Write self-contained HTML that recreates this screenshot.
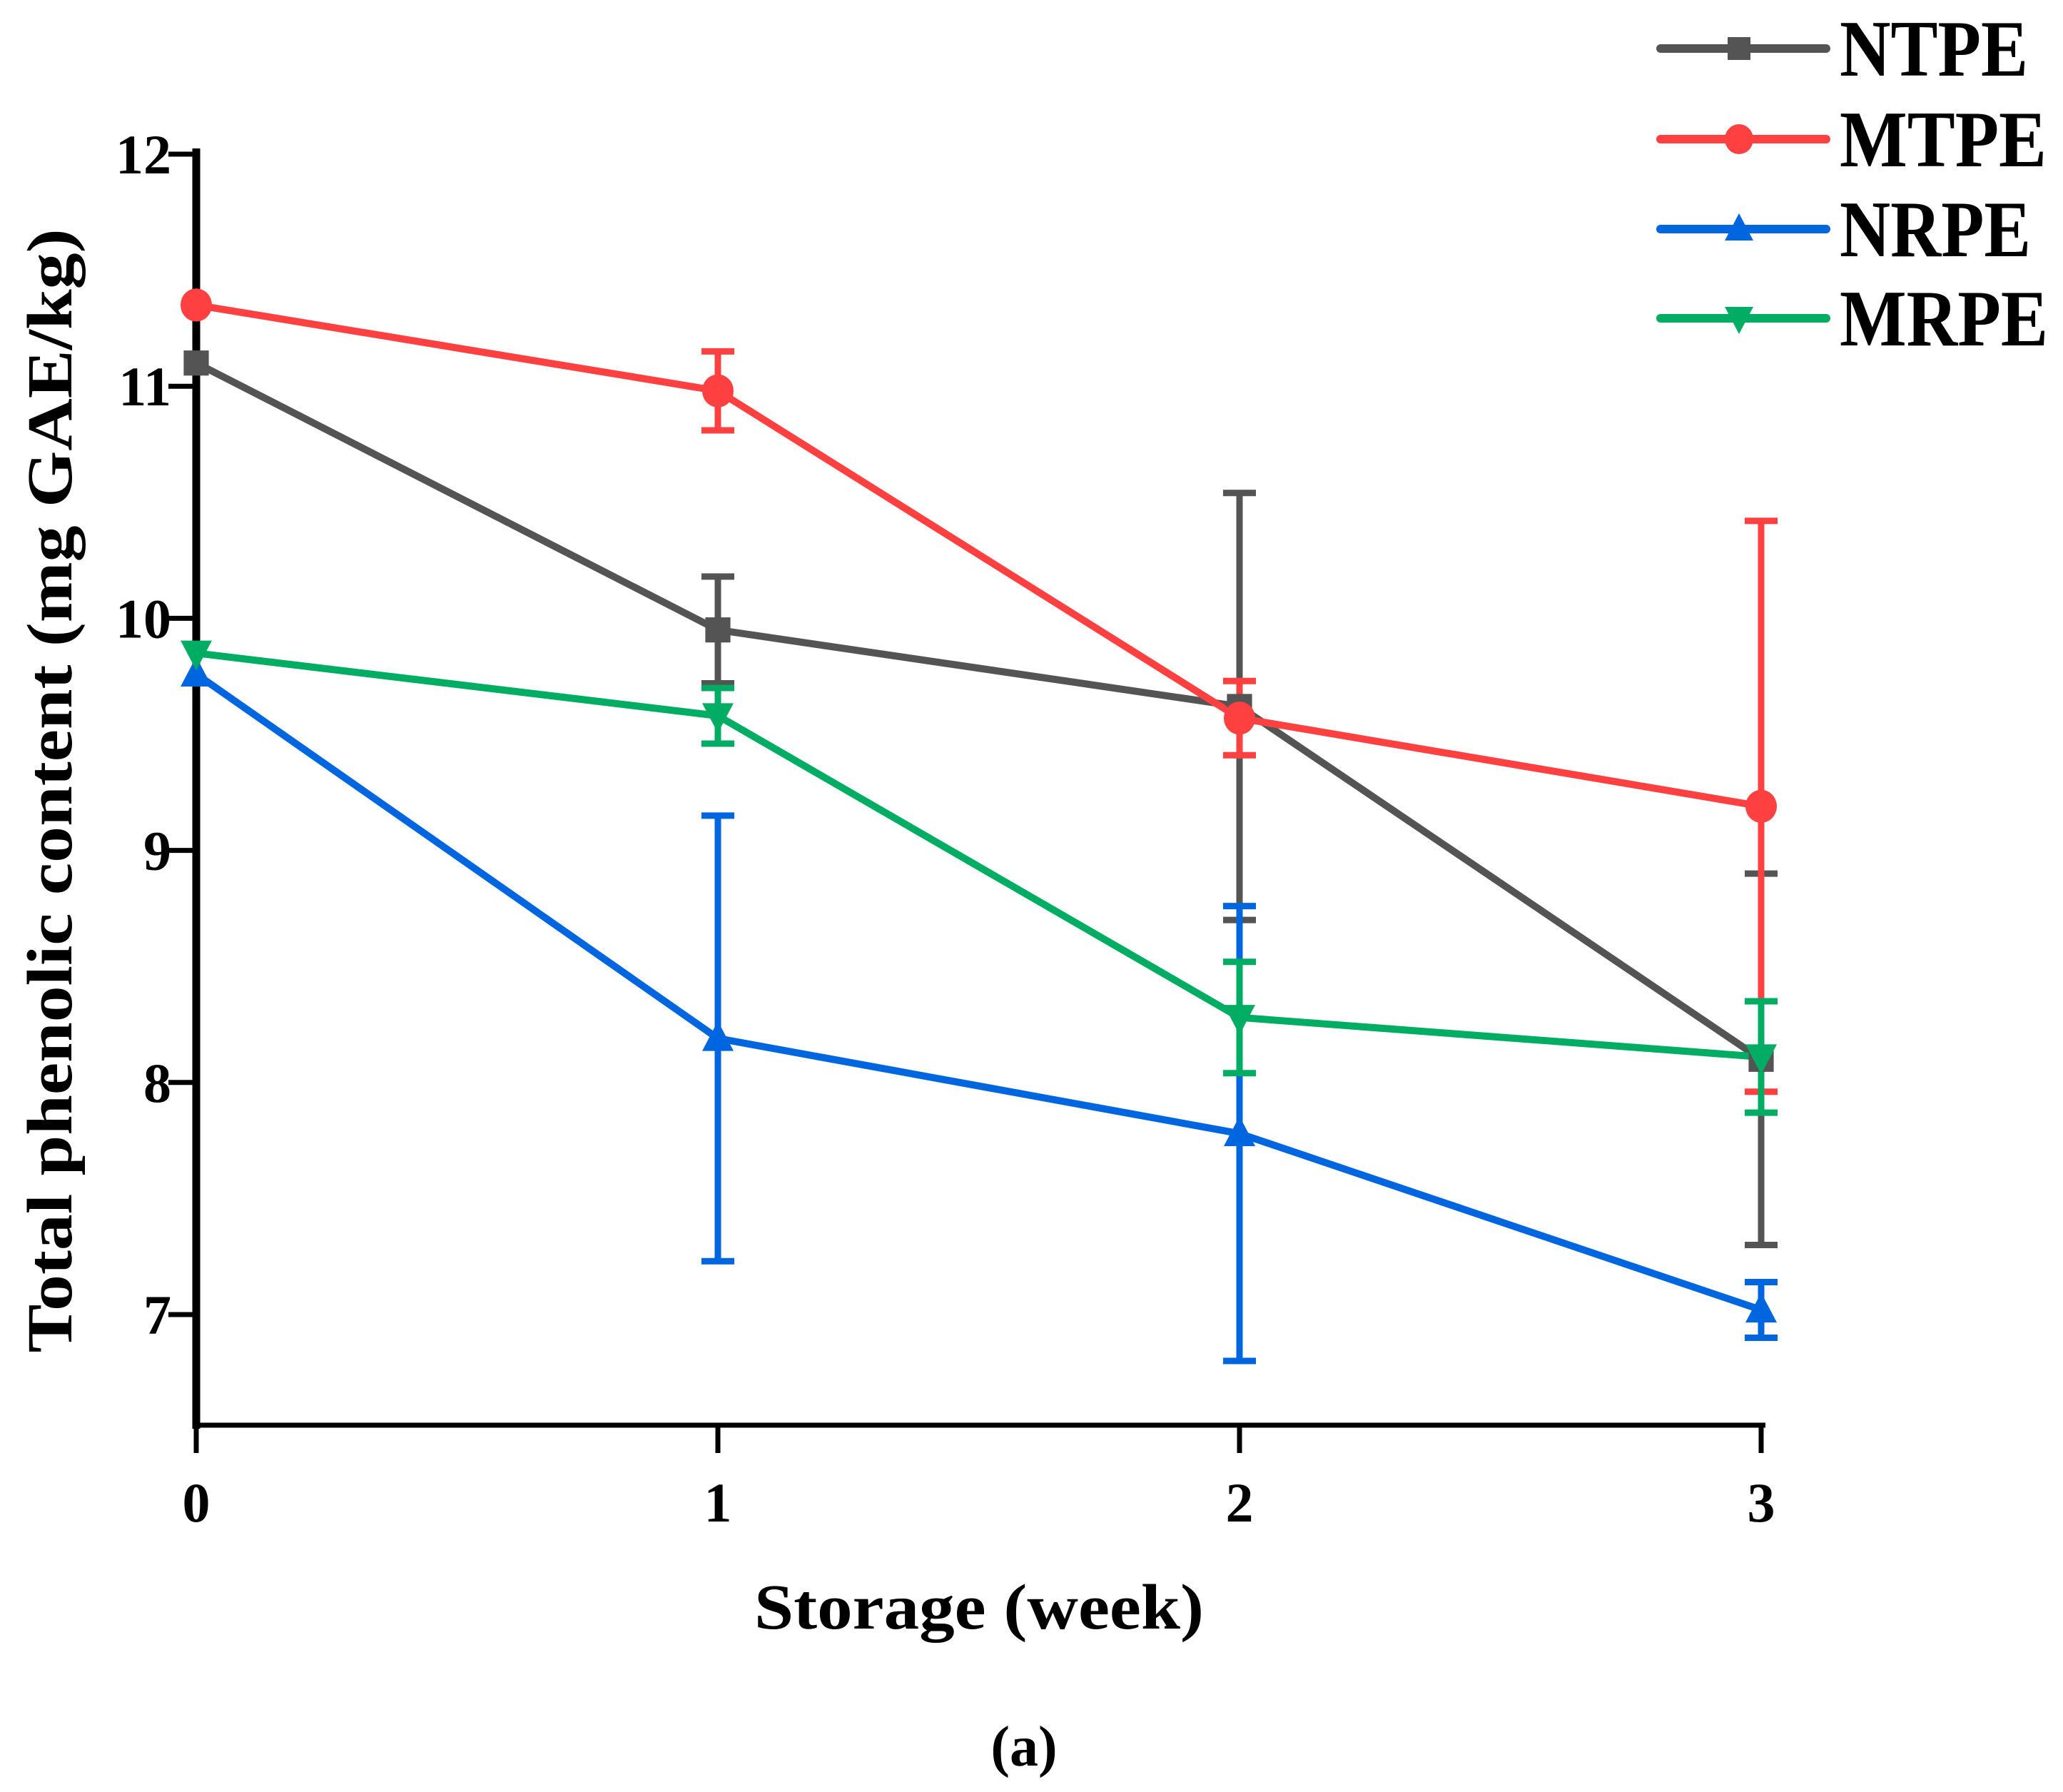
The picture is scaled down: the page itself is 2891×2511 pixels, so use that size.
<!DOCTYPE html>
<html><head><meta charset="utf-8"><style>
html,body{margin:0;padding:0;background:#fff;}
svg{display:block;font-family:"Liberation Serif",serif;font-weight:bold;}
</style></head><body>
<svg id="chart" width="2891" height="2511" viewBox="0 0 2891 2511" xmlns="http://www.w3.org/2000/svg">
<g id="axes"></g><g id="errs"></g><g id="lines"></g><g id="marks"></g><g id="legend"></g>
<text x="0" y="0" transform="translate(100,1108) rotate(-90)" text-anchor="middle" font-size="90" textLength="1575" lengthAdjust="spacingAndGlyphs">Total phenolic content (mg GAE/kg)</text>
<text x="1372" y="2282" text-anchor="middle" font-size="90" textLength="630" lengthAdjust="spacingAndGlyphs">Storage (week)</text>
<text x="1435" y="2474" text-anchor="middle" font-size="80">(a)</text>
</svg>
<script>
const weeks = [0, 1, 2, 3];
const seriesNames = ["NTPE", "MTPE", "NRPE", "MRPE"];
const ntpe = [11.1, 9.95, 9.62, 8.1];
const ntpeErr = [0, 0.23, 0.92, 0.8];
const mtpe = [11.35, 10.98, 9.57, 9.19];
const mtpeErr = [0, 0.17, 0.16, 1.23];
const nrpe = [9.76, 8.19, 7.78, 7.02];
const nrpeErr = [0, 0.96, 0.98, 0.12];
const mrpe = [9.85, 9.58, 8.28, 8.11];
const mrpeErr = [0, 0.12, 0.24, 0.24];
const yTicks = [7, 8, 9, 10, 11, 12];
const xTicks = [0, 1, 2, 3];

const NS = "http://www.w3.org/2000/svg";
function xs(v){ return 275 + v * 731; }
function ys(v){ return 216 + (12 - v) * 325.2; }
function mk(tag, attrs, parent){
  const e = document.createElementNS(NS, tag);
  for (const k in attrs) e.setAttribute(k, attrs[k]);
  parent.appendChild(e); return e;
}
const axes = document.getElementById('axes');
const yAxis = mk('line', {x1:275, y1:208, x2:275, y2:2002, stroke:'#000', 'stroke-width':11}, axes);


const xAxis = mk('line', {x1:270, y1:1997, x2:2474, y2:1997, stroke:'#000', 'stroke-width':7}, axes);


yTicks.forEach(t => {
  const l = mk('line', {x1:236, y1:ys(t), x2:275, y2:ys(t), stroke:'#000', 'stroke-width':7}, axes);
  
  
  const tx = mk('text', {x:240, y:ys(t) + 27, 'text-anchor':'end', 'font-size':78}, axes);
  tx.textContent = t;
  
  
});
xTicks.forEach(t => {
  const l = mk('line', {x1:xs(t), y1:1997, x2:xs(t), y2:2036, stroke:'#000', 'stroke-width':7}, axes);
  
  
  const tx = mk('text', {x:xs(t), y:2132, 'text-anchor':'middle', 'font-size':78}, axes);
  tx.textContent = t;
  
  
});
const series = [
  {name:'ntpe', vals:ntpe, err:ntpeErr, color:'#545454', shape:'square'},
  {name:'mtpe', vals:mtpe, err:mtpeErr, color:'#ff4040', shape:'circle'},
  {name:'nrpe', vals:nrpe, err:nrpeErr, color:'#0066e0', shape:'up'},
  {name:'mrpe', vals:mrpe, err:mrpeErr, color:'#00ad62', shape:'down'}
];
function marker(shape, cx, cy, color, parent, s){
  let e;
  if (shape === 'square') e = mk('rect', {x:cx-s*0.8, y:cy-s*0.8, width:s*1.6, height:s*1.6, fill:color}, parent);
  else if (shape === 'circle') e = mk('ellipse', {cx:cx, cy:cy, rx:s, ry:s*1.05, fill:color}, parent);
  else if (shape === 'up') e = mk('polygon', {points:`${cx},${cy-s*1.1} ${cx+s},${cy+s*0.8} ${cx-s},${cy+s*0.8}`, fill:color}, parent);
  else e = mk('polygon', {points:`${cx},${cy+s*1.1} ${cx+s},${cy-s*0.8} ${cx-s},${cy-s*0.8}`, fill:color}, parent);
  return e;
}
const errs = document.getElementById('errs'), lines = document.getElementById('lines'), marks = document.getElementById('marks');
series.forEach(s => {
  s.vals.forEach((v, i) => {
    const e = s.err[i];
    if (e > 0) {
      const g = mk('g', {stroke:s.color, 'stroke-width':9}, errs);
      
      
      mk('line', {x1:xs(weeks[i]), y1:ys(v+e), x2:xs(weeks[i]), y2:ys(v-e)}, g);
      mk('line', {x1:xs(weeks[i])-23, y1:ys(v+e), x2:xs(weeks[i])+23, y2:ys(v+e)}, g);
      mk('line', {x1:xs(weeks[i])-23, y1:ys(v-e), x2:xs(weeks[i])+23, y2:ys(v-e)}, g);
    }
  });
  const pl = mk('polyline', {points:s.vals.map((v,i)=>xs(weeks[i])+','+ys(v)).join(' '), fill:'none', stroke:s.color, 'stroke-width':10, 'stroke-linejoin':'round'}, lines);
  
  
  s.vals.forEach((v, i) => {
    const m = marker(s.shape, xs(weeks[i]), ys(v), s.color, marks, 22);
    
    
  });
});
const legend = document.getElementById('legend');
const legY = [68, 195, 321, 446];
series.forEach((s, i) => {
  const g = mk('g', {}, legend);
  
  
  mk('line', {x1:2327, y1:legY[i], x2:2559, y2:legY[i], stroke:s.color, 'stroke-width':12, 'stroke-linecap':'round'}, g);
  marker(s.shape, 2437, legY[i], s.color, g, 20);
  const t = mk('text', {x:2578, y:legY[i]+38, 'font-size':112}, g);
  t.textContent = seriesNames[i];
  t.setAttribute('textLength', [264, 290, 268, 292][i]);
  t.setAttribute('lengthAdjust', 'spacingAndGlyphs');
});
</script>
</body></html>
